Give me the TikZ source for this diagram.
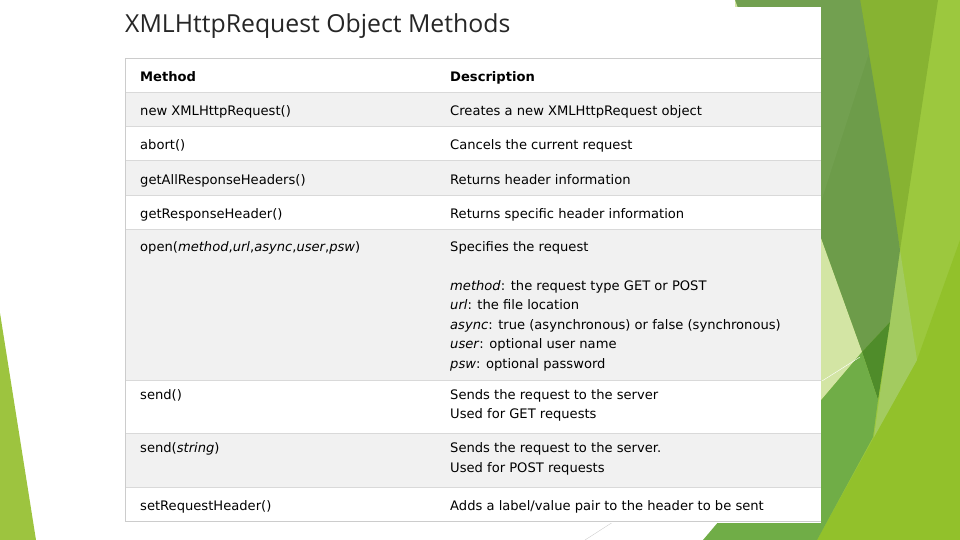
\documentclass[tikz,border=0pt]{standalone}
\usepackage{fontspec}
\setmainfont{DejaVu Sans}
\newfontfamily\titlefont{Open Sans}
\usetikzlibrary{positioning}
\definecolor{rowgray}{HTML}{F1F1F1}
\definecolor{rulegray}{HTML}{D9D9D9}
\definecolor{bordergray}{HTML}{CCCCCC}
\definecolor{titlegray}{HTML}{262626}
\definecolor{facetlight}{HTML}{9CC83E}
\definecolor{facetbright}{HTML}{92C12B}
\definecolor{facetolive}{HTML}{6D9C4A}
\definecolor{facetoliveL}{HTML}{72A050}
\definecolor{facetyellow}{HTML}{87B332}
\definecolor{facetpale}{HTML}{D3E5A4}
\definecolor{facetsoft}{HTML}{A3CB60}
\definecolor{facetdark}{HTML}{4F8C2A}
\definecolor{facetmid}{HTML}{70AD47}
\definecolor{facetleft}{HTML}{9DC43F}
\begin{document}
\begin{tikzpicture}[x=1pt,y=-1pt,
cell/.style={anchor=base west,inner sep=0pt,font=\fontsize{13.1}{19.5}\selectfont},
hcell/.style={cell,font=\fontsize{13.1}{19.5}\selectfont\bfseries},
rowline/.style={draw=rulegray,line width=1pt},
thinline/.style={draw=#1,line width=0.4pt}]
\useasboundingbox (0,0) rectangle (960,540);

% theme facets
\fill[facetleft] (0,313) -- (36,540) -- (0,540) -- cycle;
\fill[facetlight] (735,0) rectangle (960,540);
\fill[facetbright] (817,540) -- (917,360) -- (960,240) -- (960,540) -- cycle;
\fill[facetyellow] (860,0) -- (938,0) -- (900,250) -- cycle;
\fill[facetsoft] (900,250) -- (917,360) -- (874,437) -- cycle;
\fill[facetolive] (735,0) -- (860,0) -- (890,180) -- (900,250) -- (890,322) -- (862,352) -- cycle;
\fill[facetoliveL] (735,0) -- (860,0) -- (869,53) -- (812,230) -- cycle;
\fill[facetpale] (735,0) -- (862,352) -- (821,400) -- (735,400) -- cycle;
\fill[facetdark] (862,352) -- (890,322) -- (878,400) -- cycle;
\fill[facetmid] (862,352) -- (878,400) -- (873,437) -- (817,540) -- (703,540) -- cycle;
\draw[thinline=white] (822,381) -- (860,357);
\draw[thinline=bordergray] (585,540) -- (613,522);

% slide picture
\fill[white] (100,7) rectangle (821,523);
\draw (125,33) node[anchor=base west,inner sep=0pt,font=\titlefont\fontsize{24.8}{30}\selectfont,text=titlegray] (title) {XMLHttpRequest Object Methods};

% table
\foreach \a/\b in {93/127,161/195,229/380,433/487}
  \fill[rowgray] (125,\a) rectangle (821,\b);
\foreach \y in {93,127,161,195,229,380,433,487}
  \draw[rowline] (125,\y) -- (821,\y);
\draw[bordergray,line width=1pt] (821,59) -- (125,59) -- (125,521) -- (821,521);

\draw (140,82) node[hcell] (hMethod) {Method};
\draw (450,82) node[hcell] (hDesc) {Description};

\draw (140,116) node[cell] (mNew) {new XMLHttpRequest()};
\draw (450,116) node[cell] (dNew) {Creates a new XMLHttpRequest object};
\draw (140,150) node[cell] (mAbort) {abort()};
\draw (450,150) node[cell] (dAbort) {Cancels the current request};
\draw (140,184) node[cell] (mAll) {getAllResponseHeaders()};
\draw (450,184) node[cell] (dAll) {Returns header information};
\draw (140,218) node[cell] (mOne) {getResponseHeader()};
\draw (450,218) node[cell] (dOne) {Returns specific header information};

\draw (140,251) node[cell] (mOpen) {open(\textit{method},\textit{url},\textit{async},\textit{user},\textit{psw})};
\draw (450,251) node[cell] (dOpen) {Specifies the request};
\draw (450,290) node[cell] (dMethod) {\textit{method}: the request type GET or POST};
\draw (450,309.5) node[cell] (dUrl) {\textit{url}: the file location};
\draw (450,329) node[cell] (dAsync) {\textit{async}: true (asynchronous) or false (synchronous)};
\draw (450,348.5) node[cell] (dUser) {\textit{user}: optional user name};
\draw (450,368) node[cell] (dPsw) {\textit{psw}: optional password};

\draw (140,399) node[cell] (mSend) {send()};
\draw (450,399) node[cell] (dSend) {Sends the request to the server};
\draw (450,418.5) node[cell] (dGet) {Used for GET requests};
\draw (140,452.5) node[cell] (mSendS) {send(\textit{string})};
\draw (450,452.5) node[cell] (dSendS) {Sends the request to the server.};
\draw (450,472) node[cell] (dPost) {Used for POST requests};
\draw (140,510) node[cell] (mHeader) {setRequestHeader()};
\draw (450,510) node[cell] (dHeader) {Adds a label/value pair to the header to be sent};

\end{tikzpicture}
\end{document}
